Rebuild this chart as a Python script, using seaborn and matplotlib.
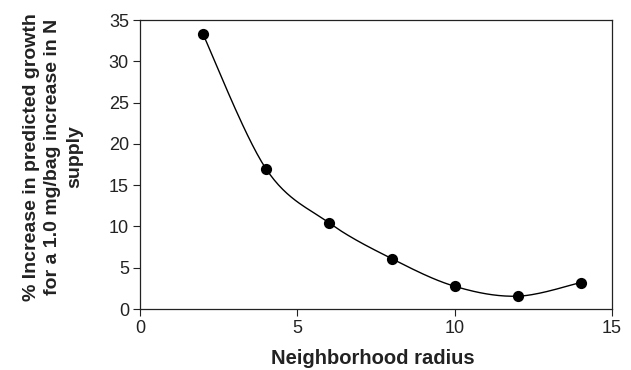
import numpy as np
import pandas as pd
import matplotlib
matplotlib.use("Agg")
import matplotlib.pyplot as plt
import seaborn as sns

radius = [2, 4, 6, 8, 10, 12, 14]
pct_increase = [33.3, 17.0, 10.45, 6.1, 2.75, 1.55, 3.2]
x_ticks = [0, 5, 10, 15]
y_ticks = [0, 5, 10, 15, 20, 25, 30, 35]
x_label = "Neighborhood radius"
y_label = "% Increase in predicted growth\nfor a 1.0 mg/bag increase in N\nsupply"

sns.set_theme(style="ticks")
plt.rcParams['font.family'] = ['Liberation Sans', 'DejaVu Sans']

def catmull_rom(xs, ys, n=30):
    xs = np.asarray(xs, float); ys = np.asarray(ys, float)
    P = np.column_stack([xs, ys])
    P = np.vstack([P[0], P, P[-1]])
    out = []
    for i in range(1, len(P) - 2):
        p0, p1, p2, p3 = P[i-1], P[i], P[i+1], P[i+2]
        c1 = p1 + (p2 - p0) / 6.0
        c2 = p2 - (p3 - p1) / 6.0
        t = np.linspace(0, 1, n, endpoint=(i == len(P) - 3))[:, None]
        seg = ((1-t)**3)*p1 + 3*((1-t)**2)*t*c1 + 3*(1-t)*t**2*c2 + t**3*p2
        out.append(seg)
    out = np.vstack(out)
    return out[:, 0], out[:, 1]

sx, sy = catmull_rom(radius, pct_increase)
curve = pd.DataFrame({"x": sx, "y": sy, "order": np.arange(len(sx))})
pts = pd.DataFrame({"x": radius, "y": pct_increase})

fig = plt.figure(figsize=(6.31, 3.70), dpi=100)
ax = fig.add_axes([140/631, 1-309/370, (612-140)/631, (309-20)/370])

sns.lineplot(data=curve, x="x", y="y", sort=False, estimator=None, color="black", linewidth=1.0, ax=ax)
sns.scatterplot(data=pts, x="x", y="y", color="black", s=65, edgecolor="black", linewidth=0, ax=ax, zorder=3)

ax.set_xlim(0, 15)
ax.set_ylim(0, 35)
ax.set_xticks(x_ticks)
ax.set_yticks(y_ticks)
ax.tick_params(axis="both", labelsize=13, colors="#222222", length=5, width=0.8, direction="out", pad=3)
for s in ax.spines.values():
    s.set_color("#222222")
    s.set_linewidth(0.9)
ax.set_xlabel("")
ax.set_ylabel("")

fig.text(373/631, 1-359/370, x_label, ha="center", va="center", fontsize=14.5, fontweight="bold", color="#222222")
fig.text(53/631, 1-157/370, y_label, ha="center", va="center", rotation=90, fontsize=14,
         fontweight="bold", color="#222222", multialignment="center", linespacing=1.35)

fig.savefig("out.png", dpi=100)
